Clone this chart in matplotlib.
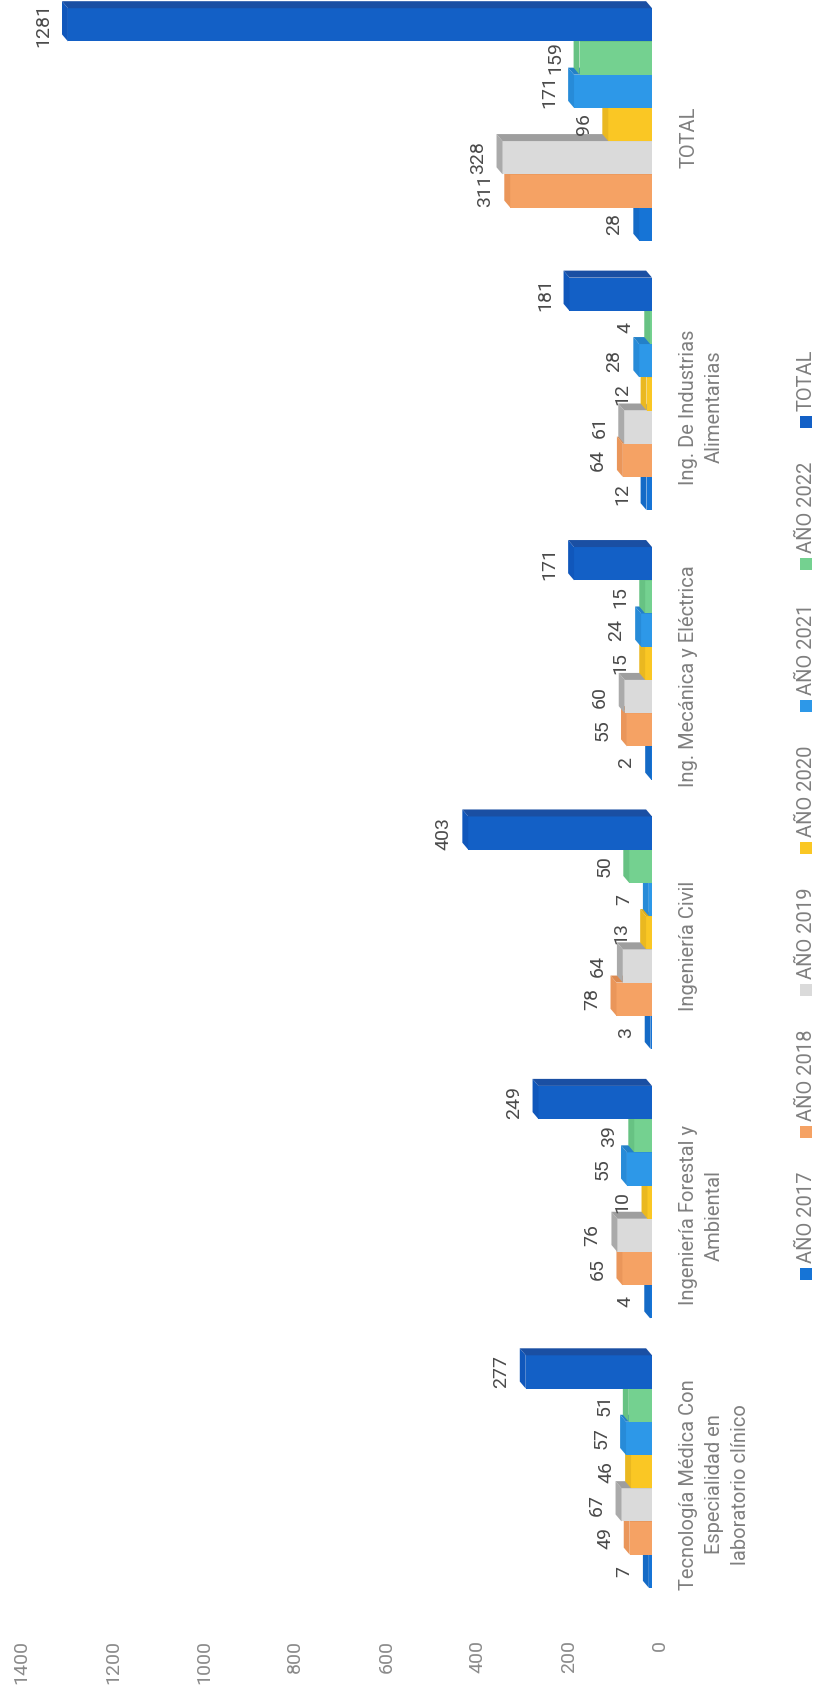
import numpy as np
import matplotlib
matplotlib.use("Agg")
from matplotlib import pyplot as plt
from matplotlib.patches import Polygon

plt.rcParams['font.family'] = ['Roboto', 'DejaVu Sans']

# datos del grafico
carreras = ["Tecnología Médica Con\nEspecialidad en\nlaboratorio clínico",
            "Ingeniería Forestal y\nAmbiental",
            "Ingeniería Civil",
            "Ing. Mecánica y Eléctrica",
            "Ing. De Industrias\nAlimentarias",
            "TOTAL"]
series = ["AÑO 2017", "AÑO 2018", "AÑO 2019", "AÑO 2020", "AÑO 2021", "AÑO 2022", "TOTAL"]
anio_2017 = [7, 4, 3, 2, 12, 28]
anio_2018 = [49, 65, 78, 55, 64, 311]
anio_2019 = [67, 76, 64, 60, 61, 328]
anio_2020 = [46, 10, 13, 15, 12, 96]
anio_2021 = [57, 55, 7, 24, 28, 171]
anio_2022 = [51, 39, 50, 15, 4, 159]
total = [277, 249, 403, 171, 181, 1281]
ticks_valor = [0, 200, 400, 600, 800, 1000, 1200, 1400]

datos = [anio_2017, anio_2018, anio_2019, anio_2020, anio_2021, anio_2022, total]
colores = ['#1674d6', '#f5a264', '#dadada', '#fac724', '#2d98e8', '#74d190', '#1360c6']
colores_fin = ['#146ac6', '#ea965a', '#aaaaaa', '#eab820', '#278bd8', '#67c283', '#1057bb']
colores_lado = ['#125fb3', '#dc8a50', '#9e9e9e', '#dcac1c', '#2380c8', '#5db477', '#1a4fa3']

W, H = 815, 1697
fig = plt.figure(figsize=(W / 100, H / 100), dpi=100)
fig.patch.set_facecolor('white')

# ejes principales (barras horizontales, valores crecen hacia la izquierda)
ax_top, ax_bot, ax_right = 0, 1630, 660
ax = fig.add_axes([0, (H - ax_bot) / H, ax_right / W, (ax_bot - ax_top) / H])
xlim = (1430, -17.5)
ax.set_xlim(*xlim)
ax.set_ylim(-0.54, 5.51)
for s in ax.spines.values():
    s.set_visible(False)
ax.set_xticks([])

h = 0.1233      # grosor de cada barra
dv = 13         # profundidad 3D (en unidades de valor)
dy = 0.026      # profundidad 3D (en unidades de categoria)
shift = 0.048
y0 = np.arange(len(carreras))

for k, vals in enumerate(datos):
    yc = y0 + shift + (k - 3) * h
    z = 2 + k
    ax.barh(yc, vals, height=h, color=colores[k], linewidth=0, zorder=z)
    for yy, v in zip(yc, vals):
        yb, yt = yy - h / 2, yy + h / 2
        ax.add_patch(Polygon([(v, yb), (v + dv, yb + dy), (v + dv, yt + dy), (v, yt)],
                             closed=True, facecolor=colores_fin[k], lw=0, zorder=z))
        ax.add_patch(Polygon([(0, yt), (v, yt), (v + dv, yt + dy), (dv, yt + dy)],
                             closed=True, facecolor=colores_lado[k], lw=0, zorder=z))
        ax.annotate(str(v), xy=(v + dv, yy), xytext=(-7, 0), textcoords='offset points',
                    rotation=90, ha='right', va='center', fontsize=14,
                    color='#4a4a4a', zorder=20)

ax.yaxis.tick_right()
ax.set_yticks(y0)
ax.set_yticklabels(carreras, rotation=90, va='center', ha='left',
                   multialignment='center', linespacing=1.45, fontsize=14.5,
                   color='#7f7f7f')
ax.tick_params(axis='y', length=0, pad=14)

# eje de valores (desplazado como en el piso 3D)
tax = fig.add_axes([8 / W, (H - ax_bot) / H, ax_right / W, (ax_bot - ax_top) / H])
tax.set_xlim(*xlim)
tax.patch.set_alpha(0)
for s in tax.spines.values():
    s.set_visible(False)
tax.set_yticks([])
tax.set_xticks(ticks_valor)
tax.set_xticklabels([str(t) for t in ticks_valor], rotation=90, va='top', ha='center',
                    fontsize=14, color='#8a8a8a')
tax.tick_params(axis='x', length=0, pad=7)

# leyenda
lax = fig.add_axes([0, 0, 1, 1])
lax.set_xlim(0, W)
lax.set_ylim(H, 0)
lax.axis('off')
for k, nombre in enumerate(series):
    yl = 1274 - 142 * k
    lax.scatter(806, yl, marker='s', s=70, color=colores[k], linewidths=0)
    lax.text(806, yl - 11, nombre, rotation=90, ha='center', va='bottom',
             fontsize=14.5, color='#7f7f7f')

plt.savefig('out.png', dpi=100)
